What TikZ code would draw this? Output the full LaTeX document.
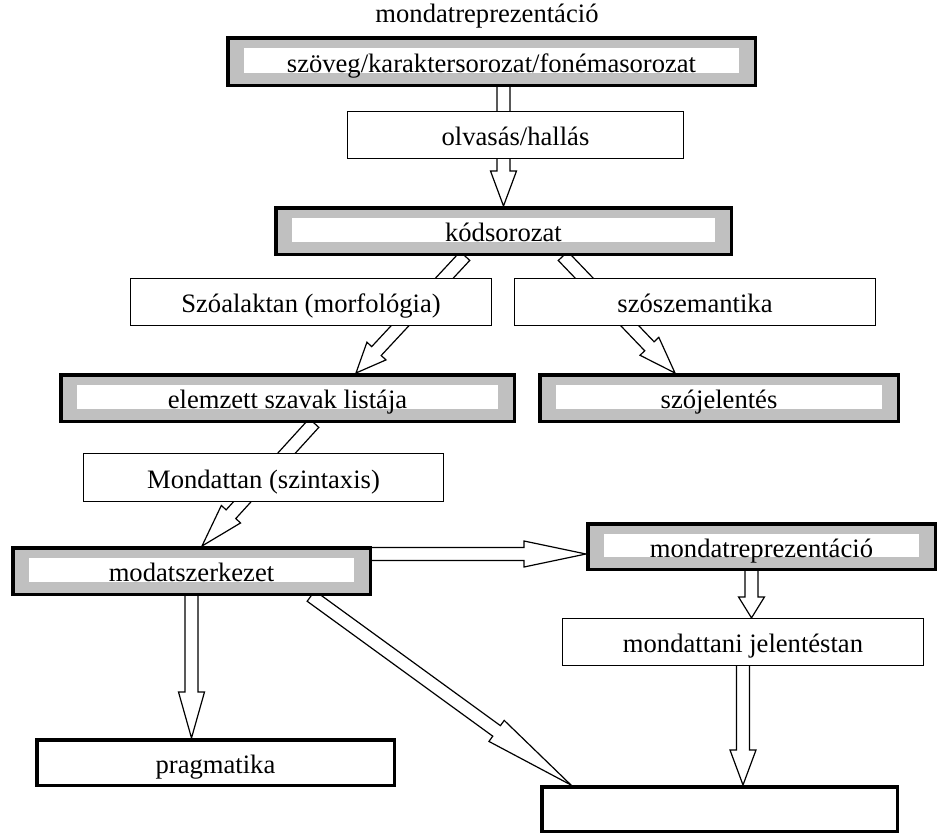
\documentclass[tikz,border=0pt]{standalone}
\usepackage{fontspec}
\setmainfont{Liberation Serif}
\usetikzlibrary{calc,backgrounds}
\definecolor{keretszurke}{RGB}{192,192,192}

% vastag nyil: #1 hegy hossza, #2 honnan, #3 hova
\newcommand{\vastagnyil}[3][17.5pt]{%
  \coordinate (hb) at ($(#3)!#1!(#2)$);
  \draw[nyil] ($(#2)!3.25pt!90:(#3)$) -- ($(hb)!3.25pt!90:(#3)$)
    -- ($(hb)!6.5pt!90:(#3)$) -- (#3) -- ($(hb)!6.5pt!-90:(#3)$)
    -- ($(hb)!3.25pt!-90:(#3)$) -- ($(#2)!3.25pt!-90:(#3)$) -- cycle;
}

\begin{document}
\begin{tikzpicture}[x=0.5pt,y=-0.5pt,
    every node/.style={font=\fontsize{13.3}{16}\selectfont,text height=10.5pt,text depth=0pt,inner sep=0pt},
    sima/.style={draw,line width=0.6pt,fill=white,minimum height=23.5pt},
    vastag/.style={sima,line width=1.75pt,minimum height=23.25pt},
    keret/.style={vastag,fill=keretszurke,
      path picture={\fill[white] ($(path picture bounding box.south west)+(8pt,6pt)$)
        rectangle ($(path picture bounding box.north east)+(-8pt,-5pt)$);}},
    nyil/.style={draw,line width=0.6pt,fill=white}]
  \useasboundingbox (0,0) rectangle (938,835);

  \node (cim) at (487,12.5) {mondatreprezentáció};
  \node[keret,minimum width=263.75pt,minimum height=23.75pt] (szoveg) at (491.5,61.5) {szöveg/karaktersorozat/fonémasorozat};
  \node[sima,minimum width=168pt] (olvas) at (515.5,135) {olvasás/hallás};
  \node[keret,minimum width=227.75pt] (kod) at (503.5,231) {kódsorozat};
  \node[sima,minimum width=180.5pt] (szoalak) at (311,302) {Szóalaktan (morfológia)};
  \node[sima,minimum width=180.5pt] (szosz) at (695,302) {szószemantika};
  \node[keret,minimum width=226.75pt] (elemz) at (287.5,398) {elemzett szavak listája};
  \node[keret,minimum width=179.25pt] (szojel) at (719,398) {szójelentés};
  \node[sima,minimum width=180pt,minimum height=24pt] (mondattan) at (263.5,477.5) {Mondattan (szintaxis)};
  \node[keret,minimum width=178.75pt] (modat) at (191.5,571) {modatszerkezet};
  \node[keret,minimum width=173.75pt,minimum height=22.75pt] (mrep) at (761.5,546.5) {mondatreprezentáció};
  \node[sima,minimum width=180.5pt] (mjel) at (743,642) {mondattani jelentéstan};
  \node[vastag,minimum width=178.75pt,minimum height=22.75pt] (prag) at (215.5,762.5) {pragmatika};
  \node[vastag,minimum width=177.75pt,minimum height=22.25pt] (ures) at (719.5,809) {};

  \coordinate (a1) at (szoveg.center -| kod.north);
  \coordinate (k1) at ($(kod.south)+(-38.5,0)$);
  \coordinate (e1) at ($(elemz.north)+(68.5,0)$);
  \coordinate (k2) at ($(kod.south)+(59.5,0)$);
  \coordinate (s1) at ($(szojel.north)+(-44,0)$);
  \coordinate (e2) at ($(elemz.south)+(26.5,0)$);
  \coordinate (m1) at ($(modat.north)+(10.5,0)$);
  \coordinate (m2) at ($(modat.center)+(0,-17)$);
  \coordinate (r1) at (mrep.west |- m2);
  \coordinate (r2) at ($(mrep.center)+(-10,0)$);
  \coordinate (j1) at (r2 |- mjel.north);
  \coordinate (p1) at (modat.center |- prag.north);
  \coordinate (m3) at ($(modat.south)+(119.5,0)$);
  \coordinate (u1) at ($(ures.north west)+(31,0)$);
  \coordinate (u2) at (mjel.center |- ures.north);

  \begin{scope}[on background layer]
    \vastagnyil[17.5pt]{a1}{kod.north}
    \vastagnyil[15pt]{k1}{e1}
    \vastagnyil[18.5pt]{k2}{s1}
    \vastagnyil[21.5pt]{e2}{m1}
    \vastagnyil[31pt]{m2}{r1}
    \vastagnyil[10.5pt]{r2}{j1}
    \vastagnyil[23pt]{modat.center}{p1}
    \vastagnyil[46pt]{m3}{u1}
    \vastagnyil[17.5pt]{mjel.center}{u2}
  \end{scope}
\end{tikzpicture}
\end{document}
